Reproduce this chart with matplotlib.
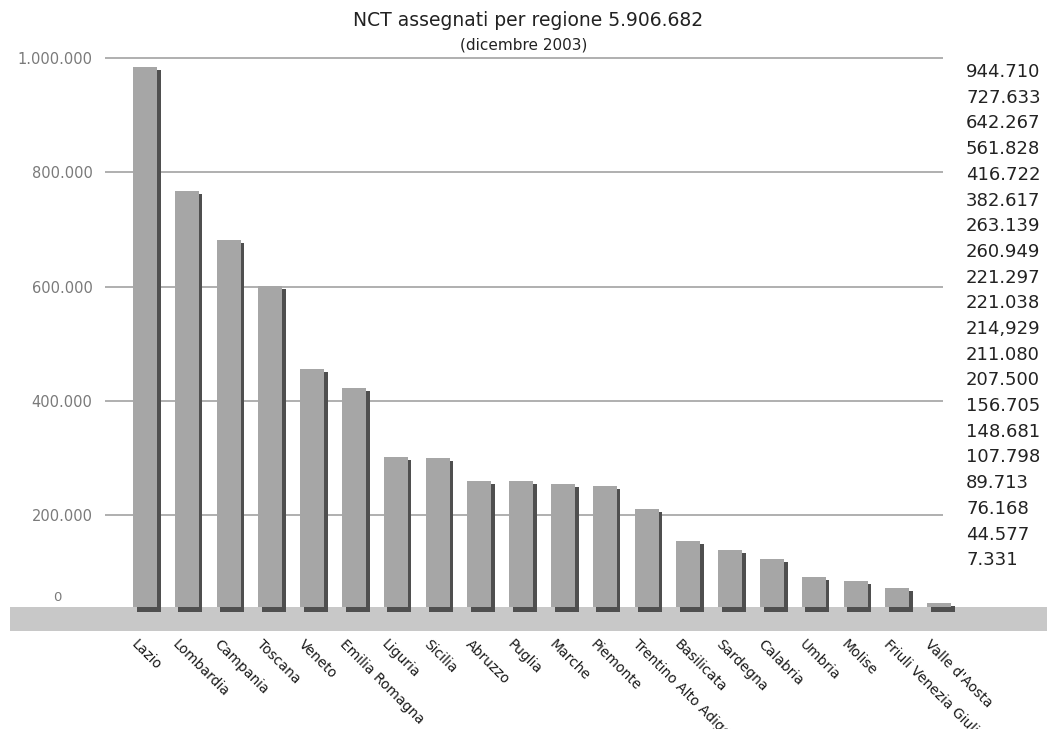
import matplotlib
matplotlib.use("Agg")
import matplotlib.pyplot as plt
import matplotlib.transforms as mtransforms

regions = ["Lazio", "Lombardia", "Campania", "Toscana", "Veneto", "Emilia Romagna",
           "Liguria", "Sicilia", "Abruzzo", "Puglia", "Marche", "Piemonte",
           "Trentino Alto Adige", "Basilicata", "Sardegna", "Calabria", "Umbria",
           "Molise", "Friuli Venezia Giulia", "Valle d'Aosta"]
# bar heights as drawn in the picture
bar_values = [944710, 727633, 642267, 561828, 416722, 382617, 263139, 260949, 221297,
              221038, 214929, 211080, 172000, 116000, 100000, 84000, 53000, 46000,
              33000, 7000]
# list printed on the right
value_labels = ["944.710", "727.633", "642.267", "561.828", "416.722", "382.617",
                "263.139", "260.949", "221.297", "221.038", "214,929", "211.080",
                "207.500", "156.705", "148.681", "107.798", "89.713", "76.168",
                "44.577", "7.331"]
grid_values = [200000, 400000, 600000, 800000, 1000000]
grid_labels = ["200.000", "400.000", "600.000", "800.000", "1.000.000"]

W, H = 1047, 729
fig = plt.figure(figsize=(W / 100, H / 100), dpi=100)
fig.patch.set_facecolor("white")

px_per_unit = 114.3 / 200000
top_px, bot_px = 30, 640
pos_y = ((H - bot_px) / H, (bot_px - top_px) / H)

# back wall with gridlines
ax_back = fig.add_axes([105 / W, pos_y[0], (943 - 105) / W, pos_y[1]])
zero_back = 629.5
ax_back.set_ylim(-(bot_px - zero_back) / px_per_unit, (zero_back - top_px) / px_per_unit)
ax_back.set_yticks(grid_values)
ax_back.set_yticklabels(grid_labels, fontsize=10.5, color="#7a7a7a")
ax_back.tick_params(axis="y", length=0, pad=9)
ax_back.set_xticks([])
ax_back.yaxis.grid(True, color="#9a9a9a", linewidth=1.1)
for s in ax_back.spines.values():
    s.set_visible(False)

# bars in front
ax = fig.add_axes([0, pos_y[0], 1, pos_y[1]])
ax.patch.set_alpha(0)
zero_bar = 607
ax.set_ylim(-(bot_px - zero_bar) / px_per_unit, (zero_bar - top_px) / px_per_unit)
c0, step = 145, 41.8
ax.set_xlim(-c0 / step, (W - c0) / step)
for s in ax.spines.values():
    s.set_visible(False)

# floor
ax.axhspan(-24 / px_per_unit, 0, xmin=10 / W, xmax=1, color="#c8c8c8", zorder=1, lw=0)

x = list(range(len(regions)))
bw = 24 / step
dx = 3.5 / step
ax.bar([i + dx for i in x], [v + 3500 for v in bar_values], width=bw, bottom=-8750,
       color="#4f4f4f", zorder=2, linewidth=0)
ax.bar(x, bar_values, width=bw, color="#a6a6a6", zorder=3, linewidth=0)

ax.text(-2.0, 3 / px_per_unit, "0", fontsize=9.5, color="#7a7a7a", ha="right", va="bottom")

ax.set_yticks([])
ax.set_xticks(x)
ax.set_xticklabels(regions, rotation=-45, ha="left", rotation_mode="anchor",
                   fontsize=10, color="#1a1a1a")
ax.tick_params(axis="x", length=0, pad=0)
shift = mtransforms.ScaledTranslation(-7 / 100, 3 / 100, fig.dpi_scale_trans)
for lbl in ax.get_xticklabels():
    lbl.set_transform(lbl.get_transform() + shift)

# titles
fig.text(528 / W, 1 - 20 / H, "NCT assegnati per regione 5.906.682", ha="center",
         va="center", fontsize=13.5, color="#222222")
fig.text(524 / W, 1 - 45 / H, "(dicembre 2003)", ha="center", va="center",
         fontsize=11, color="#222222")

# value list on the right
for i, t in enumerate(value_labels):
    fig.text(966 / W, 1 - (72 + i * 25.7) / H, t, ha="left", va="center",
             fontsize=13, color="#222222")

fig.savefig("out.png", dpi=100)
